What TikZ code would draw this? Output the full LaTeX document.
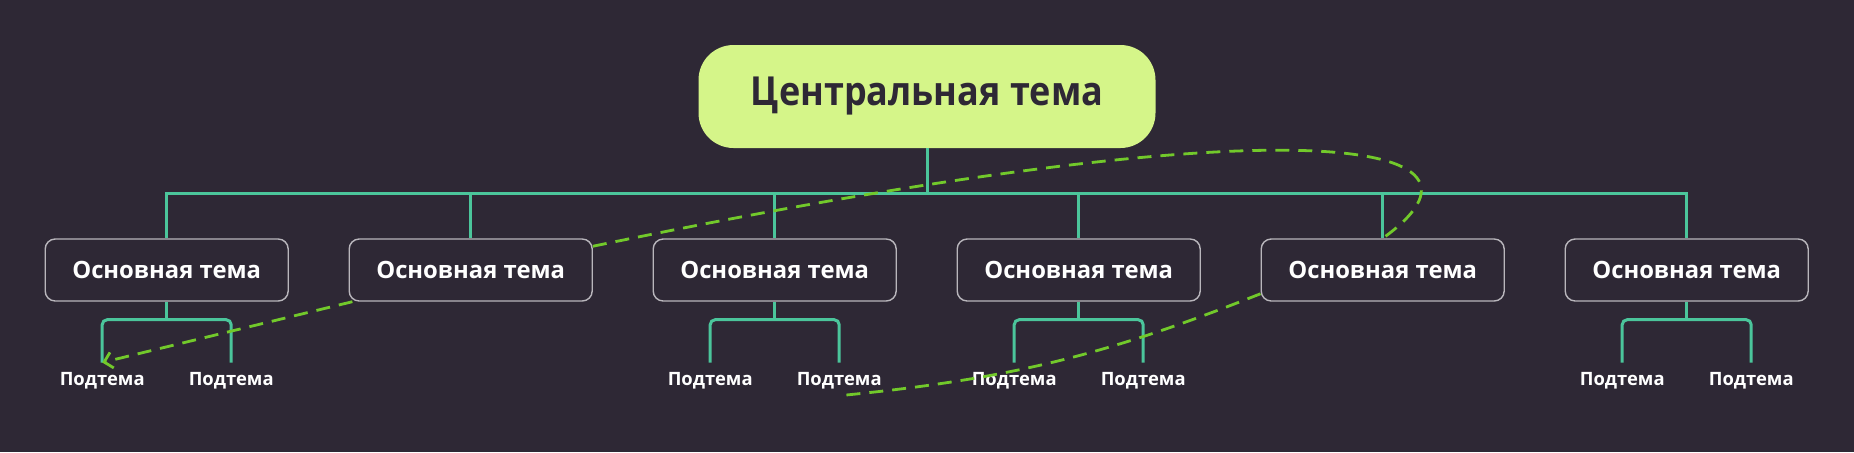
\documentclass[tikz,border=0pt]{standalone}
\usepackage{fontspec}
\setmainfont{Open Sans}
\newfontfamily\centralfont{Open Sans}[FakeStretch=0.9]
\usetikzlibrary{arrows.meta,positioning,calc}

\definecolor{bgdark}{HTML}{2E2835}
\definecolor{branchteal}{HTML}{4BC59B}
\definecolor{centrallime}{HTML}{D5F589}
\definecolor{relgreen}{HTML}{72C92B}
\definecolor{boxedge}{HTML}{B9B6BC}

\begin{document}
\begin{tikzpicture}[x=0.5pt,y=-0.5pt,node distance=29.8pt,
  centralbox/.style={fill=centrallime,rounded corners=17.5pt,minimum width=228.5pt,minimum height=51.5pt,text=bgdark,font=\centralfont\fontsize{20}{24}\selectfont\bfseries},
  mainbox/.style={draw=boxedge,line width=0.7pt,fill=bgdark,rounded corners=5pt,minimum width=121.5pt,minimum height=31pt,text=white,font=\fontsize{11.9}{14}\selectfont\bfseries},
  subtopic/.style={inner xsep=0pt,inner ysep=4.8pt,text height=6.6pt,text depth=0pt,text=white,font=\fontsize{9.2}{11}\selectfont\bfseries},
  branch/.style={draw=branchteal,line width=1.5pt},
  relline/.style={draw=relgreen,line width=1.4pt,dash pattern=on 7pt off 4.5pt}]
\fill[bgdark] (0,0) rectangle (1854,452);

% central topic and main topics
\node[centralbox] (c) at (927,96.5) {Центральная тема};
\node[mainbox] (m1) at (166.7,270) {Основная тема};
\node[mainbox,right=of m1] (m2) {Основная тема};
\node[mainbox,right=of m2] (m3) {Основная тема};
\node[mainbox,right=of m3] (m4) {Основная тема};
\node[mainbox,right=of m4] (m5) {Основная тема};
\node[mainbox,right=of m5] (m6) {Основная тема};

% subtopics
\foreach \m in {1,3,4,6}{
  \node[subtopic] (s\m a) at ([xshift=-32.25pt,yshift=-38.7pt]m\m.south) {Подтема};
  \node[subtopic] (s\m b) at ([xshift=32.25pt,yshift=-38.7pt]m\m.south) {Подтема};
}

% tree branches
\coordinate (bus) at (927,193);
\draw[branch] (c.south) -- (bus);
\draw[branch] (m1.north) |- (bus) -| (m6.north);
\foreach \m in {2,3,4,5}{\draw[branch] (m\m.north) -- (m\m.north |- bus);}
\foreach \m in {1,3,4,6}{
  \draw[branch] (m\m.south) -- ++(0,18) coordinate (k\m);
  \draw[branch,rounded corners=2.5pt] (s\m a.north) |- (k\m) -| (s\m b.north);
}

% relationship lines
\draw[relline,-{Straight Barb[length=4pt,width=8pt]}] (m2.195) -- (s1a.north);
\draw[relline] (m2.11) .. controls (1300,100) and (1520,140) .. (m5.north);
\draw[relline] (m5.191) to[bend left=8] (s3b.south);
\end{tikzpicture}
\end{document}
